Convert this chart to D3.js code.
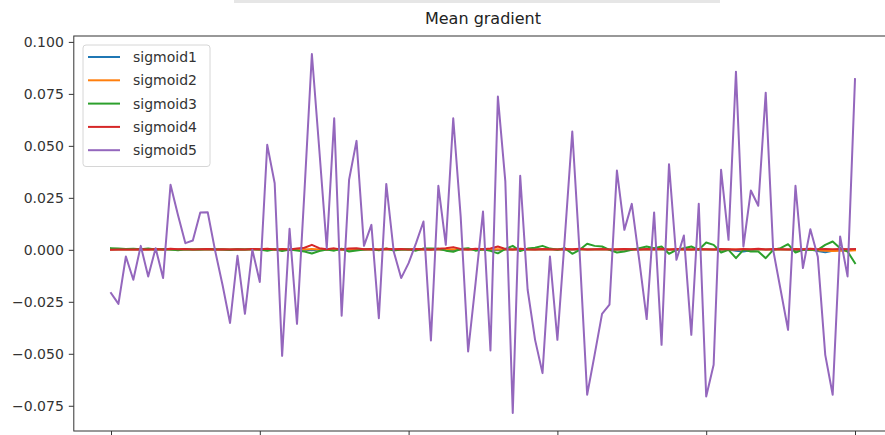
<!DOCTYPE html>
<html>
<head>
<meta charset="utf-8">
<script src="https://cdn.jsdelivr.net/npm/d3@7"></script>
<style>
  html, body { margin: 0; padding: 0; background: #fff; }
  svg { display: block; font-family: "DejaVu Sans", sans-serif; }
</style>
</head>
<body>
<svg id="chart" width="885" height="435"></svg>
<script>
// Mean gradient per step for each sigmoid layer
const steps = d3.range(0, 101);

const sigmoid1 = [
  0.0002, 0.0001, 0.0002, 0.0001, 0.0002, 0.0001, 0.0002, 0.0001, 0.0002, 0.0001,
  0.0002, 0.0001, 0.0002, 0.0001, 0.0002, 0.0001, 0.0002, 0.0001, 0.0002, 0.0001,
  0.0002, 0.0001, 0.0001, 0.0000, 0.0002, 0.0001, 0.0000, -0.0002, 0.0001, 0.0002,
  0.0001, 0.0002, 0.0000, 0.0001, 0.0002, 0.0001, 0.0000, 0.0002, 0.0001, 0.0002,
  0.0001, 0.0002, 0.0001, 0.0000, 0.0002, 0.0001, -0.0002, 0.0001, 0.0002, 0.0001,
  0.0002, 0.0000, -0.0002, 0.0001, 0.0002, 0.0001, 0.0002, 0.0001, 0.0002, 0.0001,
  0.0001, 0.0002, 0.0000, 0.0001, 0.0002, 0.0001, 0.0002, 0.0001, 0.0000, 0.0001,
  0.0002, 0.0001, 0.0002, 0.0001, 0.0002, 0.0000, 0.0001, 0.0002, 0.0001, 0.0001,
  0.0002, 0.0001, 0.0000, 0.0001, -0.0004, -0.0008, -0.0002, 0.0001, 0.0002, 0.0001,
  0.0002, 0.0001, -0.0002, 0.0000, 0.0001, -0.0006, -0.0012, -0.0004, 0.0000, 0.0001,
  0.0002
];

const sigmoid2 = [
  0.0001, 0.0001, 0.0002, 0.0001, 0.0001, 0.0002, 0.0001, 0.0001, 0.0002, 0.0001,
  0.0001, 0.0002, 0.0001, 0.0001, 0.0002, 0.0001, 0.0001, 0.0002, 0.0001, 0.0001,
  0.0002, 0.0001, 0.0001, 0.0002, 0.0001, 0.0001, 0.0002, 0.0004, 0.0001, 0.0001,
  0.0002, 0.0001, 0.0001, 0.0002, 0.0001, 0.0001, 0.0002, 0.0001, 0.0001, 0.0002,
  0.0001, 0.0001, 0.0002, 0.0001, 0.0001, 0.0002, 0.0003, 0.0001, 0.0001, 0.0002,
  0.0001, 0.0001, 0.0003, 0.0001, 0.0001, 0.0002, 0.0001, 0.0001, 0.0002, 0.0001,
  0.0001, 0.0002, 0.0001, 0.0001, 0.0002, 0.0001, 0.0001, 0.0002, 0.0001, 0.0001,
  0.0002, 0.0001, 0.0001, 0.0002, 0.0001, 0.0001, 0.0002, 0.0001, 0.0001, 0.0002,
  0.0001, 0.0001, 0.0002, 0.0001, 0.0001, 0.0002, 0.0001, 0.0001, 0.0002, 0.0001,
  0.0001, 0.0002, 0.0001, 0.0001, 0.0000, -0.0002, -0.0004, -0.0006, -0.0005, -0.0004,
  -0.0002
];

const sigmoid3 = [
  0.0008, 0.0006, 0.0004, 0.0005, 0.0003, 0.0006, 0.0002, 0.0004, 0.0001, -0.0002,
  0.0003, 0.0001, 0.0002, 0.0004, 0.0003, 0.0001, -0.0001, 0.0003, 0.0002, 0.0004,
  0.0001, -0.0004, 0.0003, -0.0006, 0.0002, -0.0003, -0.0008, -0.0018, -0.0006, 0.0002,
  -0.0004, 0.0005, -0.0008, -0.0003, 0.0002, 0.0004, -0.0002, 0.0006, -0.0003, 0.0002,
  0.0003, -0.0004, 0.0006, 0.0006, 0.0005, -0.0004, -0.0009, 0.0004, 0.0008, -0.0004,
  0.0003, -0.0005, -0.0017, 0.0004, 0.0019, -0.0006, 0.0006, 0.0010, 0.0019, 0.0006,
  0.0000, 0.0008, -0.0019, 0.0000, 0.0029, 0.0019, 0.0016, 0.0000, -0.0013, -0.0008,
  0.0000, 0.0008, 0.0016, 0.0008, 0.0016, -0.0019, 0.0000, 0.0008, 0.0016, 0.0000,
  0.0035, 0.0024, -0.0013, 0.0000, -0.0040, 0.0000, -0.0008, -0.0008, -0.0040, 0.0000,
  0.0008, 0.0027, -0.0013, 0.0000, 0.0000, 0.0000, 0.0024, 0.0040, 0.0008, -0.0008,
  -0.0064
];

const sigmoid4 = [
  0.0000, 0.0001, 0.0002, 0.0001, 0.0003, 0.0002, 0.0004, 0.0002, 0.0005, 0.0003,
  0.0004, 0.0002, 0.0003, 0.0004, 0.0002, 0.0003, 0.0001, 0.0003, 0.0002, 0.0004,
  0.0003, 0.0005, 0.0002, 0.0004, 0.0002, 0.0006, 0.0010, 0.0024, 0.0008, 0.0003,
  0.0007, 0.0002, 0.0006, 0.0008, 0.0003, 0.0004, 0.0002, 0.0005, 0.0003, 0.0004,
  0.0002, 0.0004, 0.0003, 0.0002, 0.0005, 0.0008, 0.0013, 0.0004, 0.0002, 0.0005,
  0.0003, 0.0006, 0.0016, 0.0004, 0.0001, 0.0005, 0.0003, 0.0002, 0.0004, 0.0003,
  0.0002, 0.0004, 0.0003, 0.0005, 0.0002, 0.0003, 0.0004, 0.0002, 0.0003, 0.0004,
  0.0003, 0.0002, 0.0004, 0.0003, 0.0005, 0.0002, 0.0004, 0.0003, 0.0002, 0.0004,
  0.0003, 0.0002, 0.0004, 0.0003, 0.0002, 0.0004, 0.0003, 0.0005, 0.0002, 0.0004,
  0.0003, 0.0002, 0.0004, 0.0003, 0.0005, 0.0003, 0.0004, 0.0003, 0.0004, 0.0003,
  0.0004
];

const sigmoid5 = [
  -0.0208, -0.0260, -0.0032, -0.0144, 0.0019, -0.0128, 0.0008, -0.0136, 0.0313, 0.0168,
  0.0032, 0.0045, 0.0180, 0.0181, -0.0005, -0.0170, -0.0352, -0.0029, -0.0308, 0.0000,
  -0.0155, 0.0505, 0.0320, -0.0510, 0.0101, -0.0356, 0.0280, 0.0942, 0.0480, 0.0008,
  0.0633, -0.0317, 0.0337, 0.0524, 0.0019, 0.0120, -0.0329, 0.0317, -0.0008, -0.0136,
  -0.0064, 0.0032, 0.0136, -0.0436, 0.0308, 0.0024, 0.0633, 0.0160, -0.0489, -0.0160,
  0.0184, -0.0484, 0.0737, 0.0329, -0.0785, 0.0356, -0.0192, -0.0433, -0.0593, -0.0032,
  -0.0433, 0.0060, 0.0569, -0.0022, -0.0697, -0.0505, -0.0308, -0.0264, 0.0381, 0.0096,
  0.0221, -0.0050, -0.0333, 0.0180, -0.0457, 0.0412, -0.0048, 0.0069, -0.0409, 0.0221,
  -0.0705, -0.0553, 0.0385, 0.0048, 0.0857, 0.0016, 0.0285, 0.0212, 0.0756, 0.0000,
  -0.0192, -0.0385, 0.0308, -0.0088, 0.0099, -0.0033, -0.0505, -0.0697, 0.0064, -0.0128,
  0.0821
];

const seriesNames = ["sigmoid1", "sigmoid2", "sigmoid3", "sigmoid4", "sigmoid5"];
const seriesValues = [sigmoid1, sigmoid2, sigmoid3, sigmoid4, sigmoid5];
const seriesColors = ["#1f77b4", "#ff7f0e", "#2ca02c", "#d62728", "#9467bd"];

const xTicks = [0, 20, 40, 60, 80, 100];
const yTicks = [-0.075, -0.050, -0.025, 0.000, 0.025, 0.050, 0.075, 0.100];
const chartTitle = "Mean gradient";

// ---- layout ----
const svg = d3.select("#chart");
const plot = { left: 73.8, right: 892.2, top: 36, bottom: 431 };

// axis limits padded by 5% of the data range on each side
const xMin = d3.min(steps), xMax = d3.max(steps);
const xPad = (xMax - xMin) * 0.05;
const allVals = seriesValues.flat();
const yMin = d3.min(allVals), yMax = d3.max(allVals);
const yPad = (yMax - yMin) * 0.05;

const x = d3.scaleLinear().domain([xMin - xPad, xMax + xPad]).range([plot.left, plot.right]);
const y = d3.scaleLinear().domain([yMin - yPad, yMax + yPad]).range([plot.bottom, plot.top]);

// faint strip along the top edge of the canvas
svg.append("rect")
  .attr("x", 234).attr("y", 0).attr("width", 486).attr("height", 3)
  .attr("fill", "#e6e6e6");

// ---- lines ----
const line = d3.line()
  .x((d, i) => x(steps[i]))
  .y(d => y(d));

const linesG = svg.append("g");
seriesValues.forEach((vals, k) => {
  linesG.append("path")
    .datum(vals)
    .attr("fill", "none")
    .attr("stroke", seriesColors[k])
    .attr("stroke-width", 2)
    .attr("stroke-linejoin", "round")
    .attr("stroke-linecap", "square")
    .attr("d", line);
});

// ---- axes ----
const yAxis = d3.axisLeft(y)
  .tickValues(yTicks)
  .tickFormat(d3.format(".3f"))
  .tickSize(5)
  .tickPadding(5);

const yG = svg.append("g")
  .attr("transform", `translate(${plot.left},0)`)
  .call(yAxis);
yG.select(".domain").remove();
yG.selectAll("line").attr("stroke", "#333").attr("stroke-width", 1);
yG.selectAll("text")
  .attr("fill", "#333")
  .style("font-size", "14px")
  .style("font-family", "'DejaVu Sans', sans-serif");

// bottom ticks only; their labels fall below the canvas edge
const xAxis = d3.axisBottom(x)
  .tickValues(xTicks)
  .tickFormat("")
  .tickSize(5);

const xG = svg.append("g")
  .attr("transform", `translate(0,${plot.bottom})`)
  .call(xAxis);
xG.select(".domain").remove();
xG.selectAll("line").attr("stroke", "#333").attr("stroke-width", 1);

// spines
svg.append("rect")
  .attr("x", plot.left).attr("y", plot.top)
  .attr("width", plot.right - plot.left).attr("height", plot.bottom - plot.top)
  .attr("fill", "none")
  .attr("stroke", "#333")
  .attr("stroke-width", 1);

// ---- title ----
svg.append("text")
  .attr("x", (plot.left + plot.right) / 2)
  .attr("y", plot.top - 12)
  .attr("text-anchor", "middle")
  .attr("fill", "#222")
  .style("font-size", "16px")
  .text(chartTitle);

// ---- legend ----
const legend = svg.append("g").attr("transform", "translate(83,45)");
legend.append("rect")
  .attr("width", 127).attr("height", 121.5)
  .attr("rx", 3)
  .attr("fill", "#fff").attr("fill-opacity", 0.8)
  .attr("stroke", "#d6d6d6").attr("stroke-width", 1);

seriesNames.forEach((name, k) => {
  const row = legend.append("g").attr("transform", `translate(0,${12 + k * 23.3})`);
  row.append("line")
    .attr("x1", 5).attr("x2", 37)
    .attr("stroke", seriesColors[k])
    .attr("stroke-width", 2);
  row.append("text")
    .attr("x", 50).attr("y", 0)
    .attr("dy", "0.35em")
    .attr("fill", "#333")
    .style("font-size", "14px")
    .text(name);
});
</script>
</body>
</html>
